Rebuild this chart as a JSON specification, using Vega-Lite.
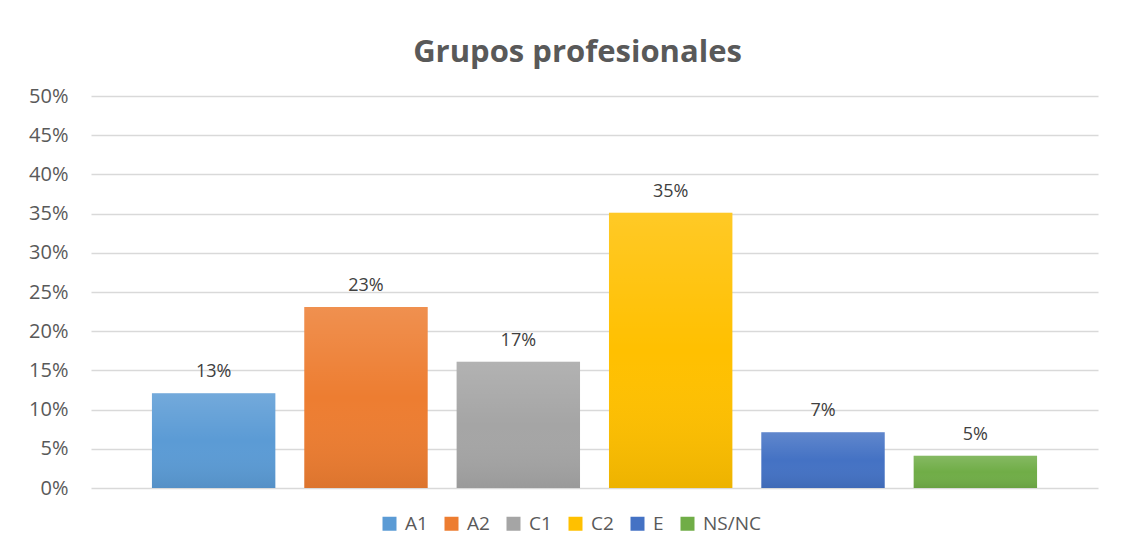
{
  "$schema": "https://vega.github.io/schema/vega-lite/v6.json",
  "width": 1007,
  "height": 392,
  "autosize": {"type": "none"},
  "padding": {"left": 91, "top": 96, "right": 23, "bottom": 71},
  "background": "white",
  "title": {
    "text": "Grupos profesionales",
    "font": "Open Sans",
    "fontSize": 31,
    "fontWeight": "bold",
    "color": "#595959",
    "anchor": "middle",
    "dx": -17,
    "offset": 17
  },
  "config": {
    "font": "Open Sans",
    "view": {"stroke": null}
  },
  "data": {
    "values": [
      {"grupo": "A1", "valor": 0.121, "etiqueta": "13%"},
      {"grupo": "A2", "valor": 0.231, "etiqueta": "23%"},
      {"grupo": "C1", "valor": 0.161, "etiqueta": "17%"},
      {"grupo": "C2", "valor": 0.351, "etiqueta": "35%"},
      {"grupo": "E", "valor": 0.071, "etiqueta": "7%"},
      {"grupo": "NS/NC", "valor": 0.041, "etiqueta": "5%"}
    ]
  },
  "encoding": {
    "x": {
      "field": "grupo",
      "type": "nominal",
      "sort": null,
      "scale": {"paddingInner": 0.19, "paddingOuter": 0.4},
      "axis": null
    },
    "y": {
      "field": "valor",
      "type": "quantitative",
      "scale": {"domain": [0, 0.5], "nice": false},
      "axis": {
        "format": ".0%",
        "values": [0, 0.05, 0.1, 0.15, 0.2, 0.25, 0.3, 0.35, 0.4, 0.45, 0.5],
        "title": null,
        "domain": false,
        "ticks": false,
        "labelPadding": 23,
        "labelFontSize": 20,
        "labelColor": "#595959",
        "labelFont": "Open Sans",
        "gridColor": "#d9d9d9",
        "gridWidth": 1.3
      }
    }
  },
  "layer": [
    {
      "mark": {"type": "bar"},
      "encoding": {
        "color": {
          "field": "grupo",
          "type": "nominal",
          "sort": null,
          "scale": {
            "domain": ["A1", "A2", "C1", "C2", "E", "NS/NC"],
            "range": ["#5B9BD5", "#ED7D31", "#A5A5A5", "#FFC000", "#4472C4", "#70AD47"]
          },
          "legend": {
            "title": null,
            "orient": "none",
            "direction": "horizontal",
            "legendX": 289,
            "legendY": 418,
            "symbolType": "square",
            "symbolSize": 196,
            "symbolStrokeWidth": 0,
            "symbolOpacity": 1,
            "labelFontSize": 19,
            "labelColor": "#595959",
            "labelFont": "Open Sans",
            "labelOffset": 6,
            "columnPadding": 14
          }
        }
      }
    },
    {
      "mark": {
        "type": "bar",
        "color": {
          "gradient": "linear",
          "x1": 0, "y1": 0, "x2": 0, "y2": 1,
          "stops": [
            {"offset": 0, "color": "rgba(255,255,255,0.15)"},
            {"offset": 0.5, "color": "rgba(255,255,255,0)"},
            {"offset": 1, "color": "rgba(0,0,0,0.07)"}
          ]
        }
      },
      "encoding": {}
    },
    {
      "mark": {
        "type": "text",
        "baseline": "bottom",
        "dy": -12,
        "fontSize": 18,
        "color": "#404040",
        "font": "Open Sans"
      },
      "encoding": {
        "text": {"field": "etiqueta"}
      }
    }
  ]
}
